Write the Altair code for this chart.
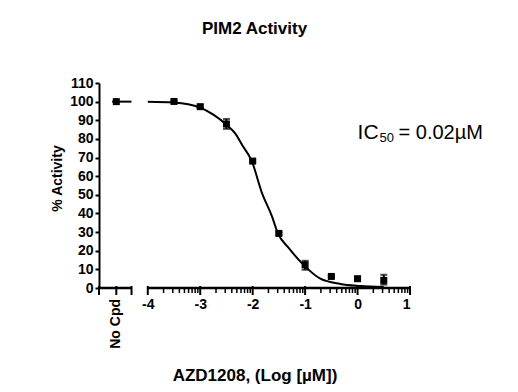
import altair as alt
import pandas as pd
import numpy as np

# ---- data ----
log_conc = [-3.5, -3.0, -2.5, -2.0, -1.5, -1.0, -0.5, 0.0, 0.5]
activity = [100.1, 97.3, 88.0, 68.1, 29.3, 12.4, 6.2, 5.0, 4.1]
err_lo = [99.6, 96.6, 85.4, 67.4, 28.6, 9.8, 5.6, 4.4, 1.8]
err_hi = [100.6, 98.0, 90.7, 68.8, 30.0, 14.6, 6.8, 5.6, 7.1]

nocpd_x = [-4.6]
nocpd_y = [100.0]
nocpd_line_x = [-4.68]
nocpd_line_x2 = [-4.31]

curve_x = [-4.0, -3.5, -3.0, -2.75, -2.5, -2.33, -2.2, -2.02, -1.82, -1.63,
           -1.52, -1.31, -1.03, -0.71, -0.33, 0.05, 0.5]
curve_y = [100.0, 99.6, 96.8, 93.0, 87.6, 82.8, 76.7, 68.3, 50.8, 38.3,
           29.4, 21.4, 12.4, 5.0, 2.2, 1.1, 0.5]

x_major = [-4, -3, -2, -1, 0, 1]
x_minor = [d + np.log10(k) for d in range(-4, 1) for k in range(2, 10)]
seg_start = [-4.93, -4.0]
seg_end = [-4.31, 1.0]
seg_caps = [-4.93, -4.31]
y_ticks = list(range(0, 111, 10))

title_text = "PIM2 Activity"
x_title = "AZD1208, (Log [µM])"
y_title = "% Activity"
nocpd_label = "No Cpd"
ic_main, ic_sub, ic_rest = "IC", "50", "= 0.02µM"

FONT = "Liberation Sans"

pts = pd.DataFrame({"x": log_conc, "y": activity, "lo": err_lo, "hi": err_hi})
nocpd = pd.DataFrame({"x": nocpd_x, "y": nocpd_y})
nocpd_line = pd.DataFrame({"x": nocpd_line_x, "x2": nocpd_line_x2, "y": nocpd_y})
curve = pd.DataFrame({"x": curve_x, "y": curve_y})
segs = pd.DataFrame({"xs": seg_start, "xe": seg_end})
major = pd.DataFrame({"x": x_major + seg_caps + nocpd_x})
minor = pd.DataFrame({"x": x_minor})

xscale = alt.Scale(domain=[-4.93, 1.0], nice=False, zero=False)
yscale = alt.Scale(domain=[0, 110], nice=False, zero=False)

xaxis = alt.Axis(
    values=x_major, labelExpr="datum.value + ''", ticks=False, domain=False,
    grid=False, labelFont=FONT, labelFontSize=14, labelFontWeight="bold",
    labelColor="black", labelPadding=9, labelBaseline="top",
    title=x_title, titleFont=FONT, titleFontSize=17, titleFontWeight="bold",
    titleColor="black", titleY=92, titleBaseline="alphabetic",
)
yaxis = alt.Axis(
    values=y_ticks, grid=False, domainColor="black", domainWidth=2,
    tickColor="black", tickWidth=2, tickSize=4, labelFont=FONT,
    labelFontSize=14, labelFontWeight="bold", labelColor="black",
    labelPadding=2, title=y_title, titleFont=FONT, titleFontSize=14,
    titleFontWeight="bold", titleColor="black", titleAngle=270,
    titleX=-38, titleY=95, titleAlign="center", titleBaseline="alphabetic",
)


def X(field):
    return alt.X(field, type="quantitative", scale=xscale, axis=xaxis)


def Y(field):
    return alt.Y(field, type="quantitative", scale=yscale, axis=yaxis)


Y0 = alt.YDatum(0, scale=yscale, axis=yaxis)

curve_layer = alt.Chart(curve).mark_line(
    color="black", strokeWidth=2, interpolate="monotone"
).encode(x=X("x"), y=Y("y"))

err_layer = alt.Chart(pts).mark_rule(color="black", strokeWidth=2).encode(
    x=X("x"), y=Y("lo"), y2="hi")
cap_lo = alt.Chart(pts).mark_tick(
    color="black", orient="horizontal", size=7, thickness=2
).encode(x=X("x"), y=Y("lo"))
cap_hi = alt.Chart(pts).mark_tick(
    color="black", orient="horizontal", size=7, thickness=2
).encode(x=X("x"), y=Y("hi"))

pt_layer = alt.Chart(pts).mark_square(
    color="black", size=49, opacity=1
).encode(x=X("x"), y=Y("y"))

nocpd_pt = alt.Chart(nocpd).mark_square(
    color="black", size=49, opacity=1
).encode(x=X("x"), y=Y("y"))
nocpd_ln = alt.Chart(nocpd_line).mark_rule(color="black", strokeWidth=2).encode(
    x=X("x"), x2="x2", y=Y("y"))

seg_layer = alt.Chart(segs).mark_rule(color="black", strokeWidth=2.5).encode(
    x=X("xs"), x2="xe", y=Y0)
major_layer = alt.Chart(major).mark_rule(
    color="black", strokeWidth=2, yOffset=-2, y2Offset=7
).encode(x=X("x"), y=Y0, y2=alt.Y2Datum(0))
minor_layer = alt.Chart(minor).mark_rule(
    color="black", strokeWidth=1.5, y2Offset=5
).encode(x=X("x"), y=Y0, y2=alt.Y2Datum(0))

nocpd_text = alt.Chart(nocpd).mark_text(
    text=nocpd_label, font=FONT, fontSize=14, fontWeight="bold",
    color="black", angle=270, align="right", baseline="middle", dx=-11
).encode(x=X("x"), y=Y0)

ic_pos = pd.DataFrame({"x": [0.0], "y": [80.0]})
ic1 = alt.Chart(ic_pos).mark_text(
    text=ic_main, font=FONT, fontSize=21, color="black", align="left",
    baseline="alphabetic"
).encode(x=X("x"), y=Y("y"))
ic2 = alt.Chart(ic_pos).mark_text(
    text=ic_sub, font=FONT, fontSize=13, color="black", align="left",
    baseline="alphabetic", dx=22, dy=3
).encode(x=X("x"), y=Y("y"))
ic3 = alt.Chart(ic_pos).mark_text(
    text=ic_rest, font=FONT, fontSize=20, color="black", align="left",
    baseline="alphabetic", dx=41
).encode(x=X("x"), y=Y("y"))

chart = alt.layer(
    curve_layer, err_layer, cap_lo, cap_hi, pt_layer, nocpd_ln, nocpd_pt,
    seg_layer, major_layer, minor_layer, nocpd_text, ic1, ic2, ic3
).properties(
    width=311, height=205,
    padding={"left": 91, "top": 75, "right": 100, "bottom": 100},
    autosize=alt.AutoSizeParams(type="none"),
    background="white",
    title=alt.TitleParams(
        title_text, font=FONT, fontSize=17, fontWeight="bold", color="black",
        anchor="middle", frame="group", offset=38
    ),
).configure_view(stroke=None)

chart.save("out.html", embed_options={"renderer": "svg", "actions": False})
